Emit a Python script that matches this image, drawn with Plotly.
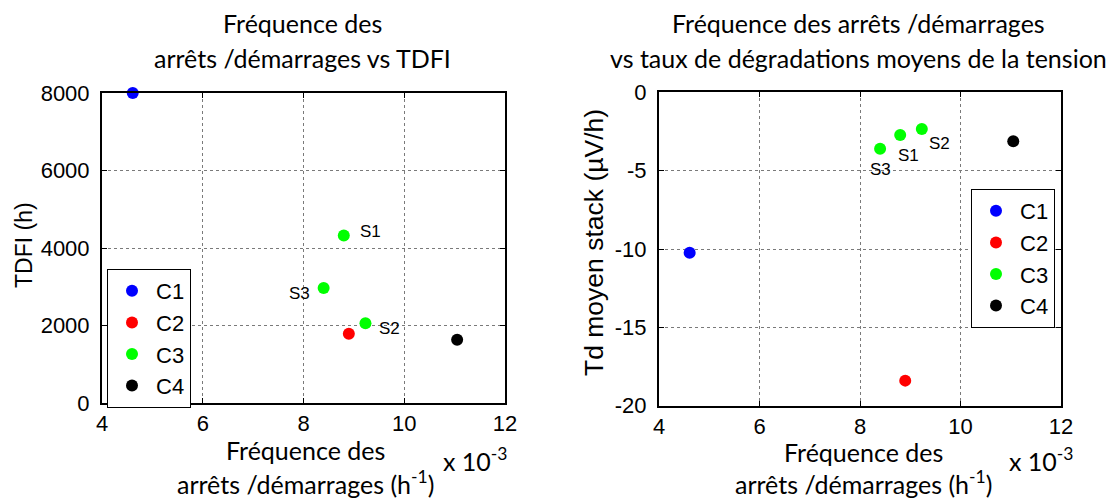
import plotly.graph_objects as go

W, H = 1116, 499

# ---------------- data ----------------
categories = ["C1", "C2", "C3", "C4"]
colors = ["#0000ff", "#ff0000", "#00ff00", "#000000"]

# start/stop frequency (x 1e-3 h^-1)
freq_c1 = [4.61]
freq_c2 = [8.90]
freq_c3 = [8.80, 9.23, 8.40]   # S1, S2, S3
freq_c4 = [11.05]

# TDFI (h)
tdfi_c1 = [8000]
tdfi_c2 = [1790]
tdfi_c3 = [4320, 2060, 2970]
tdfi_c4 = [1635]

# mean stack degradation rate (µV/h)
td_c1 = [-10.24]
td_c2 = [-18.4]
td_c3 = [-2.72, -2.34, -3.60]
td_c4 = [-3.13]

s_labels = ["S1", "S2", "S3"]

x_ticks = [4, 6, 8, 10, 12]
y1_ticks = [0, 2000, 4000, 6000, 8000]
y2_ticks = [0, -5, -10, -15, -20]
y2_ticktext = ["0", "-5", "-10", "-15", "-20"]

title_left = ["Fréquence des", "arrêts /démarrages vs TDFI"]
title_right = ["Fréquence des arrêts /démarrages",
               "vs taux de dégradations moyens de la tension"]
xtitle = ["Fréquence des", "arrêts /démarrages (h<sup>-1</sup>)"]

freqs = [freq_c1, freq_c2, freq_c3, freq_c4]
tdfis = [tdfi_c1, tdfi_c2, tdfi_c3, tdfi_c4]
tds = [td_c1, td_c2, td_c3, td_c4]

# ---------------- figure ----------------
fig = go.Figure()

for name, col, fx, ty, tz in zip(categories, colors, freqs, tdfis, tds):
    fig.add_trace(go.Scatter(x=fx, y=ty, mode="markers", name=name,
                             marker=dict(color=col, size=12), cliponaxis=False,
                             xaxis="x", yaxis="y", legend="legend"))
    fig.add_trace(go.Scatter(x=fx, y=tz, mode="markers", name=name,
                             marker=dict(color=col, size=12), cliponaxis=False,
                             xaxis="x2", yaxis="y2", legend="legend2"))

TICKF = dict(family="Liberation Sans, Arial, sans-serif", size=22, color="black")
CAL = "Lato, Carlito, Calibri, sans-serif"
ARIAL = "Liberation Sans, Arial, sans-serif"

def px_x(p):
    return p / W

def px_y(p):
    return 1 - p / H

axis_common = dict(showline=True, linecolor="black", linewidth=2, mirror="ticks",
                   ticks="inside", ticklen=5, tickcolor="black", tickwidth=1,
                   showgrid=True, gridcolor="#7a7a7a", griddash="dot", gridwidth=1,
                   zeroline=False, tickfont=TICKF, automargin=False)

fig.update_layout(
    width=W, height=H,
    margin=dict(l=0, r=0, t=0, b=0, pad=0, autoexpand=False),
    paper_bgcolor="white", plot_bgcolor="white",
    xaxis=dict(domain=[px_x(102), px_x(505)], range=[4, 12], tickvals=x_ticks,
               anchor="y", ticklabelstandoff=0, **axis_common),
    yaxis=dict(domain=[px_y(403), px_y(93)], range=[0, 8000], tickvals=y1_ticks,
               anchor="x", ticklabelstandoff=6, **axis_common),
    xaxis2=dict(domain=[px_x(659), px_x(1061)], range=[4, 12], tickvals=x_ticks,
                anchor="y2", ticklabelstandoff=0, **axis_common),
    yaxis2=dict(domain=[px_y(405.7), px_y(92.3)], range=[-20, 0], tickvals=y2_ticks,
                ticktext=y2_ticktext, anchor="x2", ticklabelstandoff=6, **axis_common),
    legend=dict(x=px_x(107), y=px_y(269), xanchor="left", yanchor="top",
                bordercolor="black", borderwidth=1, bgcolor="white",
                font=dict(family=ARIAL, size=22, color="black"),
                itemwidth=38, tracegroupgap=0),
    legend2=dict(x=px_x(971), y=px_y(189), xanchor="left", yanchor="top",
                 bordercolor="black", borderwidth=1, bgcolor="white",
                 font=dict(family=ARIAL, size=22, color="black"),
                 itemwidth=38, tracegroupgap=0),
)

ann = []
# S labels, left plot
left_off = [("left", 14, 4), ("left", 12, -5), ("right", -12, -6)]
for lab, fx, ty, (xa, dx, dy) in zip(s_labels, freq_c3, tdfi_c3, left_off):
    ann.append(dict(x=fx, y=ty, xref="x", yref="y", text=lab, showarrow=False,
                    xanchor=xa, yanchor="middle", xshift=dx, yshift=dy,
                    font=dict(family=ARIAL, size=17, color="black")))
right_off = [("center", 8, -21), ("center", 18, -15), ("center", 0, -21)]
for lab, fx, tz, (xa, dx, dy) in zip(s_labels, freq_c3, td_c3, right_off):
    ann.append(dict(x=fx, y=tz, xref="x2", yref="y2", text=lab, showarrow=False,
                    xanchor=xa, yanchor="middle", xshift=dx, yshift=dy,
                    font=dict(family=ARIAL, size=17, color="black")))

def line_ann(text, cx, cy, anchor="center", size=25, family=CAL):
    return dict(x=px_x(cx), y=px_y(cy), xref="paper", yref="paper", text=text,
                showarrow=False, xanchor=anchor, yanchor="middle",
                font=dict(family=family, size=size, color="black"))

# titles
ann.append(line_ann(title_left[0], 302, 23))
ann.append(line_ann(title_left[1], 302, 58))
ann.append(line_ann(title_right[0], 858, 23))
ann.append(line_ann(title_right[1], 858, 58))

# x axis titles
for cx, cy1 in ((305, 450), (863, 452)):
    ann.append(line_ann(xtitle[0], cx, cy1))
    ann.append(line_ann(xtitle[1], cx, 482))
for lx in (441, 1007):
    ann.append(line_ann("x 10<sup>-3</sup>", lx, 459, anchor="left"))

# y axis titles
ann.append(dict(x=px_x(24), y=px_y(245), xref="paper", yref="paper",
                text="TDFI (h)", showarrow=False, textangle=-90,
                xanchor="center", yanchor="middle",
                font=dict(family=ARIAL, size=23, color="black")))
ann.append(dict(x=px_x(594), y=px_y(243), xref="paper", yref="paper",
                text="Td moyen stack (µV/h)", showarrow=False, textangle=-90,
                xanchor="center", yanchor="middle",
                font=dict(family=ARIAL, size=26.5, color="black")))

fig.update_layout(annotations=ann)

# page body has a default 8px margin; remove it so the figure fills the window
fig.write_html("out.html", config={"displayModeBar": False},
               post_script="document.body.style.margin='0';document.body.style.overflow='hidden';")
